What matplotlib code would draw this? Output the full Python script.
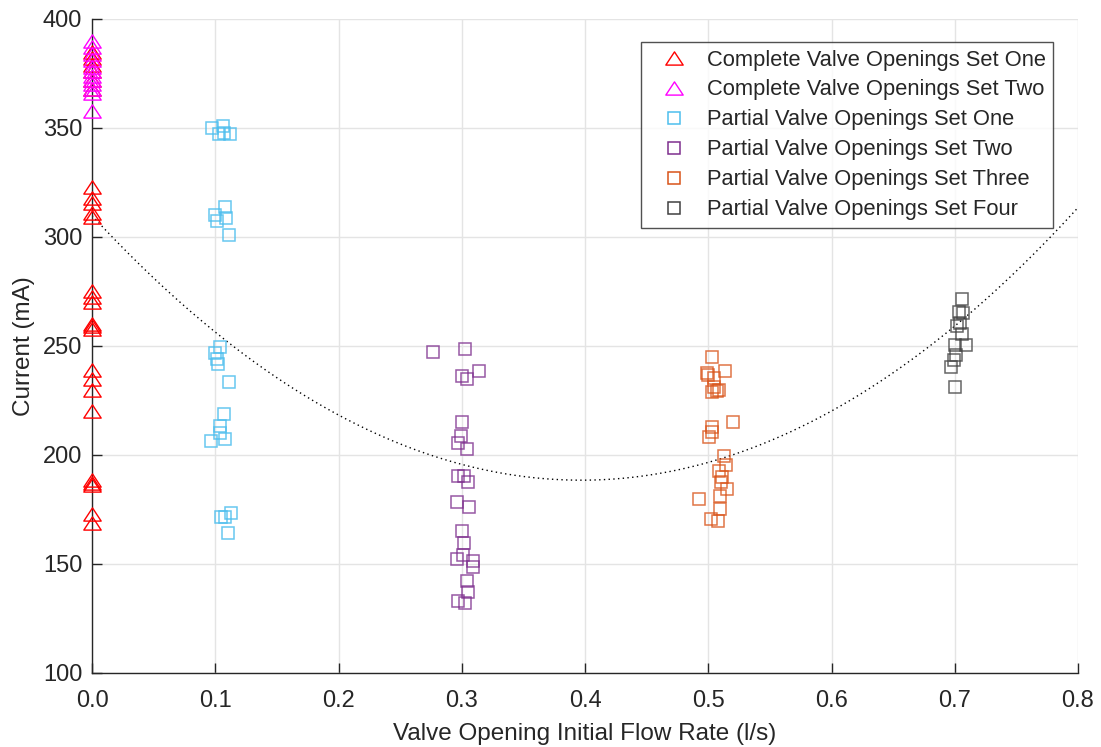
import numpy as np
import matplotlib
matplotlib.use("Agg")
import matplotlib.pyplot as plt
from matplotlib.path import Path

plt.rcParams['font.family'] = ['Liberation Sans', 'DejaVu Sans']

# Complete valve openings (all at zero initial flow rate)
complete_one_x = [0.0] * 26
complete_one_y = [385, 382, 379, 323, 318, 315.5, 311, 309,
                  275, 272.5, 270, 260, 259, 258,
                  239, 235, 230, 220,
                  188.5, 187, 186, 173, 169,
                  376, 372, 368]
complete_two_x = [0.0] * 12
complete_two_y = [390, 387, 384, 381, 378, 376, 374, 372, 370, 368, 366, 358]

# Partial valve openings
partial_one_x = [0.097, 0.106, 0.103, 0.107, 0.112,
                 0.108, 0.100, 0.101, 0.109, 0.111,
                 0.104, 0.100, 0.101, 0.1025, 0.111,
                 0.107, 0.104, 0.104, 0.108, 0.0966,
                 0.1125, 0.105, 0.108, 0.1106]
partial_one_y = [349.9, 350.9, 347.1, 347.6, 347.1,
                 313.9, 310.0, 307.5, 308.9, 300.8,
                 249.7, 246.6, 243.9, 241.6, 233.6,
                 218.7, 213.3, 209.9, 207.5, 206.4,
                 173.3, 171.4, 171.4, 164.0]

partial_two_x = [0.2764, 0.303, 0.300, 0.304, 0.3137,
                 0.3004, 0.2991, 0.2972, 0.3045,
                 0.2972, 0.302, 0.3053, 0.2964, 0.3056,
                 0.3002, 0.3018, 0.3008, 0.2964, 0.3094, 0.3094,
                 0.3045, 0.3053, 0.2972, 0.3026]
partial_two_y = [247.4, 248.5, 236.4, 234.9, 238.5,
                 215.3, 208.7, 205.4, 202.6,
                 190.5, 190.5, 187.5, 178.4, 176.3,
                 165.3, 159.5, 154.1, 152.2, 151.4, 148.8,
                 142.2, 137.3, 133.2, 132.3]

partial_three_x = [0.5033, 0.4987, 0.5136, 0.505, 0.4995,
                   0.505, 0.507, 0.503, 0.509,
                   0.5203, 0.5028, 0.5033, 0.5009,
                   0.5128, 0.5144, 0.509, 0.5109, 0.5103, 0.5155,
                   0.4922, 0.5095, 0.5095, 0.5022, 0.5082]
partial_three_y = [244.8, 237.8, 238.5, 235.2, 236.5,
                   231.0, 229.5, 229.0, 230.0,
                   215.3, 213.0, 210.7, 208.4,
                   199.5, 195.4, 192.8, 190.0, 187.7, 184.3,
                   179.6, 181.2, 175.2, 170.6, 169.7]

partial_four_x = [0.7056, 0.7035, 0.707, 0.7042, 0.7015, 0.706,
                  0.700, 0.7088, 0.701, 0.699, 0.6967, 0.700]
partial_four_y = [271.4, 265.7, 265.0, 260.7, 259.0, 255.5,
                  250.5, 250.5, 245.9, 243.6, 240.5, 231.3]

# Quadratic trend coefficients (highest power first)
trend_coeffs = [770.0, -611.4, 309.8]

x_ticks = [0.0, 0.1, 0.2, 0.3, 0.4, 0.5, 0.6, 0.7, 0.8]
x_tick_labels = ["0.0", "0.1", "0.2", "0.3", "0.4", "0.5", "0.6", "0.7", "0.8"]
y_ticks = [100, 150, 200, 250, 300, 350, 400]

# wide, flat triangle marker
tri = Path([(0, 0.76), (-1, -0.76), (1, -0.76), (0, 0.76)],
           [Path.MOVETO, Path.LINETO, Path.LINETO, Path.CLOSEPOLY])

fig = plt.figure(figsize=(11.01, 7.47), dpi=100)
ax = fig.add_axes([0.0836, 0.0991, 0.8955, 0.8755])

tri_kw = dict(linestyle='none', markerfacecolor='none', markersize=12.5,
              markeredgewidth=1.0, clip_on=False, zorder=3)
sq_kw = dict(linestyle='none', markerfacecolor='none', markersize=8.7,
             markeredgewidth=1.1, zorder=3)
ax.plot(complete_one_x, complete_one_y, marker=tri, color='#ff0000',
        label='Complete Valve Openings Set One', **tri_kw)
ax.plot(complete_two_x, complete_two_y, marker=tri, color='#ff00ff',
        label='Complete Valve Openings Set Two', **tri_kw)
ax.plot(partial_one_x, partial_one_y, marker='s', color='#4dbeee', alpha=0.85,
        label='Partial Valve Openings Set One', **sq_kw)
ax.plot(partial_two_x, partial_two_y, marker='s', color='#7e2f8e', alpha=0.8,
        label='Partial Valve Openings Set Two', **sq_kw)
ax.plot(partial_three_x, partial_three_y, marker='s', color='#d95319', alpha=0.8,
        label='Partial Valve Openings Set Three', **sq_kw)
ax.plot(partial_four_x, partial_four_y, marker='s', color='#404040', alpha=0.8,
        label='Partial Valve Openings Set Four', **sq_kw)

xs = np.linspace(0.0, 0.8, 400)
ax.plot(xs, np.polyval(trend_coeffs, xs), linestyle=(0, (1, 2.4)), color='black',
        linewidth=1.0, zorder=2)

ax.set_xlim(0, 0.8)
ax.set_ylim(100, 400)
ax.set_xticks(x_ticks)
ax.set_xticklabels(x_tick_labels)
ax.set_yticks(y_ticks)
ax.grid(True, color='#e4e4e4', linewidth=1.0)
ax.set_axisbelow(True)
for side in ('top', 'right'):
    ax.spines[side].set_visible(False)
for side in ('left', 'bottom'):
    ax.spines[side].set_color('#262626')
    ax.spines[side].set_linewidth(1.0)
ax.tick_params(direction='in', length=7, width=1.0, color='#262626',
               labelsize=17, labelcolor='#262626')
ax.tick_params(axis='x', pad=12)
ax.tick_params(axis='y', pad=7)

ax.set_xlabel('Valve Opening Initial Flow Rate (l/s)', fontsize=17.5, color='#262626', labelpad=8)
ax.set_ylabel('Current (mA)', fontsize=17.5, color='#262626', labelpad=6)

leg = ax.legend(loc='upper right', bbox_to_anchor=(0.975, 0.965), borderaxespad=0,
                fontsize=15.75, markerscale=1.0, frameon=True, fancybox=False,
                borderpad=0.35, labelspacing=0.41, handletextpad=0.33, handlelength=2.3)
leg.get_frame().set_edgecolor('#262626')
leg.get_frame().set_linewidth(1.0)
for h in leg.legend_handles:
    h.set_alpha(1.0)
for t in leg.get_texts():
    t.set_color('#262626')

fig.savefig('out.png', dpi=100)
